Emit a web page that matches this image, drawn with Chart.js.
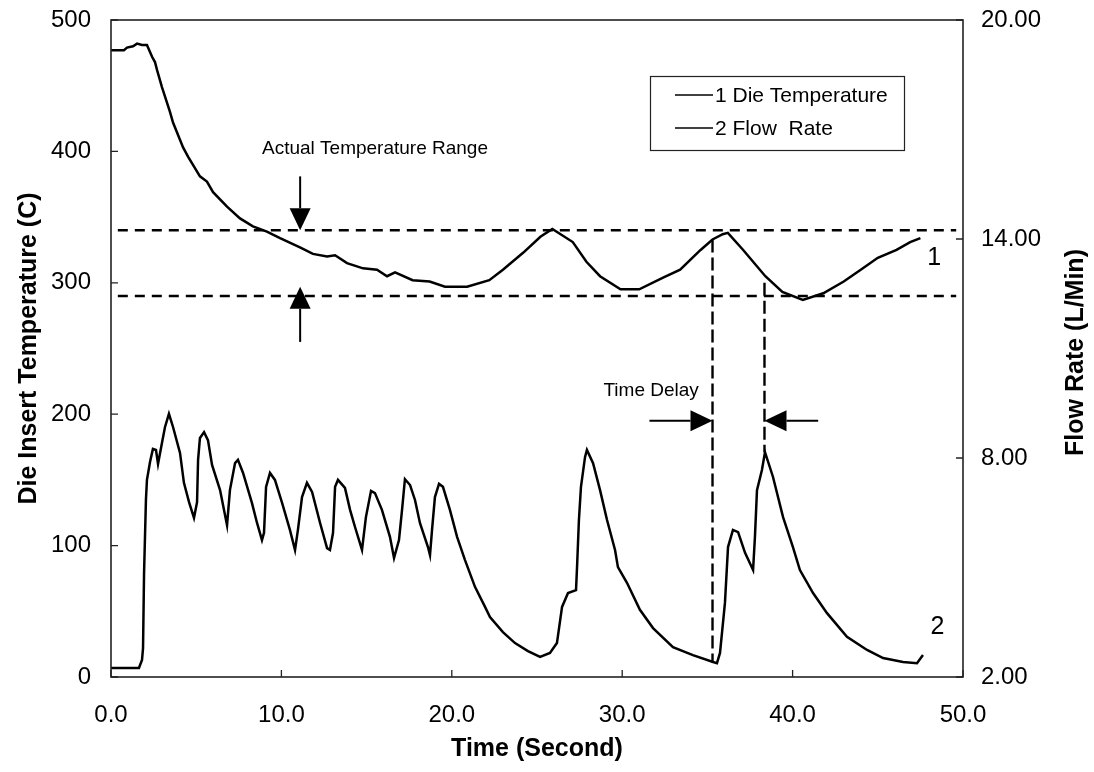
<!DOCTYPE html>
<html>
<head>
<meta charset="utf-8">
<script src="https://cdn.jsdelivr.net/npm/chart.js@4/dist/chart.umd.min.js"></script>
<style>
  html, body { margin: 0; padding: 0; background: #fff; }
  #wrap { width: 1094px; height: 772px; }
</style>
</head>
<body>
<div id="wrap"><canvas id="chart" width="1094" height="772"></canvas></div>
<script>
// Axis ticks
const timeTicks = [0, 10, 20, 30, 40, 50];
const tempTicks = [0, 100, 200, 300, 400, 500];
const flowTicks = [2, 8, 14, 20];

// Curve 1: die insert temperature (C) versus time (s)
const tempTime = [0, 0.76, 0.94, 1.29, 1.53, 1.82, 2.11, 2.41, 2.58, 2.70, 2.99, 3.46, 3.64, 4.23, 4.52,
  5.22, 5.63, 5.99, 6.81, 7.57, 8.33, 9.15, 9.92, 11.09, 11.85, 12.68, 13.15, 13.85, 14.79, 15.61, 16.20,
  16.67, 17.7, 18.7, 19.6, 20.9, 22.2, 23.0, 24.2, 25.2, 25.9, 27.1, 27.9, 28.7, 29.9, 31.0, 32.4, 33.4,
  34.6, 35.3, 35.9, 36.2, 37.1, 38.4, 39.4, 40.6, 41.8, 43.0, 44.0, 45.0, 46.1, 46.9, 47.5];
const tempValues = [477, 477, 479, 480, 482, 481, 481, 472, 468, 462, 449, 430, 422, 403, 396,
  381, 377, 369, 358, 349, 343, 339, 334, 327, 322, 320, 321, 315, 311, 310, 305,
  308, 302, 301, 297, 297, 302, 310, 323, 335, 341, 331, 316, 305, 295, 295, 304, 310,
  325, 333, 337, 338, 325, 305, 293, 287, 292, 301, 310, 319, 325, 331, 334];

// Curve 2: coolant flow rate (L/Min) versus time (s)
const flowTime = [0, 1.64, 1.82, 1.88, 1.94, 2.05, 2.11, 2.29, 2.46, 2.64, 2.76, 2.99, 3.17, 3.40, 3.64,
  4.05, 4.28, 4.58, 4.87, 5.05, 5.11, 5.22, 5.46, 5.69, 5.93, 6.40, 6.81, 6.98, 7.28, 7.45, 7.75, 8.27,
  8.57, 8.86, 8.98, 9.10, 9.33, 9.62, 10.04, 10.50, 10.80, 10.97, 11.21, 11.50, 11.80, 12.27, 12.68, 12.85,
  13.03, 13.15, 13.32, 13.73, 14.03, 14.32, 14.73, 14.96, 15.26, 15.49, 15.90, 16.37, 16.61, 16.90, 17.08,
  17.25, 17.55, 17.84, 18.13, 18.60, 18.72, 18.84, 19.01, 19.25, 19.48, 19.89, 20.31, 20.77, 21.36, 21.95,
  22.24, 23.00, 23.71, 24.47, 25.18, 25.76, 26.17, 26.47, 26.82, 27.29, 27.35, 27.46, 27.58, 27.82, 27.93,
  28.29, 28.70, 29.11, 29.58, 29.75, 30.28, 31.04, 31.81, 32.98, 34.15, 35.33, 35.56, 35.74, 36.03, 36.21,
  36.50, 36.80, 37.21, 37.68, 37.79, 37.91, 38.20, 38.38, 38.85, 39.44, 40.02, 40.43, 41.20, 42.02, 43.19,
  44.37, 45.31, 46.48, 47.30, 47.65];
const flowValues = [2.25, 2.25, 2.47, 2.79, 4.85, 6.85, 7.40, 7.89, 8.25, 8.22, 7.84, 8.41, 8.85, 9.21, 8.85,
  8.14, 7.32, 6.79, 6.36, 6.79, 7.95, 8.55, 8.71, 8.49, 7.81, 7.12, 6.16, 7.12, 7.86, 7.95, 7.59, 6.77,
  6.22, 5.75, 5.95, 7.21, 7.59, 7.40, 6.77, 6.03, 5.48, 6.03, 6.93, 7.32, 7.07, 6.22, 5.53, 5.48,
  5.95, 7.21, 7.40, 7.18, 6.58, 6.11, 5.48, 6.38, 7.10, 7.04, 6.58, 5.84, 5.26, 5.75, 6.58,
  7.42, 7.26, 6.85, 6.22, 5.56, 5.34, 6.03, 6.93, 7.29, 7.21, 6.58, 5.84, 5.21, 4.47, 3.92,
  3.64, 3.23, 2.93, 2.71, 2.55, 2.66, 2.93, 3.92, 4.30, 4.38, 5.01, 6.30, 7.21, 8.03, 8.22,
  7.86, 7.12, 6.30, 5.48, 5.01, 4.58, 3.84, 3.34, 2.82, 2.60, 2.41, 2.38, 2.66, 4.03, 5.56,
  6.03, 5.97, 5.40, 4.93, 5.84, 7.12, 7.67, 8.16, 7.48, 6.38, 5.56, 4.93, 4.30, 3.75, 3.10,
  2.74, 2.52, 2.41, 2.38, 2.60];

// Target temperature band (C) and its time span (s)
const rangeLimits = [340, 290];
const rangeSpan = [0.4, 49.6];

// Time-delay markers: times (s) and their top / bottom ends (C)
const delayTimes = [35.3, 38.35];
const delayTops = [333, 300];
const delayBottoms = [11, 171];

// Arrows: [fromTime, fromTemp, toTime, toTemp]
const rangeArrows = [[11.1, 381, 11.1, 340], [11.1, 255, 11.1, 297]];
const delayArrows = [[31.6, 195, 35.3, 195], [41.5, 195, 38.35, 195]];

// Text annotations: [time, temp, text]
const notes = [
  [8.86, 402, 'Actual Temperature Range'],
  [28.9, 218, 'Time Delay'],
  [47.9, 319, '1'],
  [48.1, 38, '2']
];

const FONT = '"Liberation Sans", Arial, Helvetica, sans-serif';
Chart.defaults.font.family = FONT;
Chart.defaults.color = '#000';

const pts = (xs, ys) => xs.map((x, i) => ({ x: x, y: ys[i] }));

const guide = (data, dash) => ({
  data: data, yAxisID: 'y', borderColor: '#000', borderWidth: 2.4,
  borderDash: dash, pointRadius: 0, fill: false, tension: 0, isGuide: true
});

const datasets = [
  { label: '1 Die Temperature', data: pts(tempTime, tempValues), yAxisID: 'y',
    borderColor: '#000', borderWidth: 2.5, pointRadius: 0, tension: 0, fill: false },
  { label: '2 Flow  Rate', data: pts(flowTime, flowValues), yAxisID: 'y2',
    borderColor: '#000', borderWidth: 2.5, pointRadius: 0, tension: 0, fill: false }
];
rangeLimits.forEach(v => datasets.push(guide([{ x: rangeSpan[0], y: v }, { x: rangeSpan[1], y: v }], [10, 7])));
delayTimes.forEach((t, i) => datasets.push(guide([{ x: t, y: delayTops[i] }, { x: t, y: delayBottoms[i] }], [13, 5])));

// Plot frame and inward tick marks
const frameTicks = {
  id: 'frameTicks',
  afterDatasetsDraw(chart) {
    const { ctx, chartArea: a, scales } = chart;
    ctx.save();
    ctx.strokeStyle = '#222';
    ctx.lineWidth = 1.6;
    ctx.strokeRect(a.left, a.top, a.right - a.left, a.bottom - a.top);
    ctx.lineWidth = 1.3;
    ctx.beginPath();
    timeTicks.forEach(v => { const x = scales.x.getPixelForValue(v); ctx.moveTo(x, a.bottom); ctx.lineTo(x, a.bottom - 7); });
    tempTicks.forEach(v => { const y = scales.y.getPixelForValue(v); ctx.moveTo(a.left, y); ctx.lineTo(a.left + 7, y); });
    flowTicks.forEach(v => { const y = scales.y2.getPixelForValue(v); ctx.moveTo(a.right, y); ctx.lineTo(a.right - 7, y); });
    ctx.stroke();
    ctx.restore();
  }
};

function drawArrow(ctx, x1, y1, x2, y2) {
  const ang = Math.atan2(y2 - y1, x2 - x1);
  const hl = 22, hw = 10.5;
  const bx = x2 - hl * Math.cos(ang), by = y2 - hl * Math.sin(ang);
  ctx.beginPath();
  ctx.moveTo(x1, y1);
  ctx.lineTo(bx, by);
  ctx.lineWidth = 2;
  ctx.stroke();
  ctx.beginPath();
  ctx.moveTo(x2, y2);
  ctx.lineTo(bx + hw * Math.sin(ang), by - hw * Math.cos(ang));
  ctx.lineTo(bx - hw * Math.sin(ang), by + hw * Math.cos(ang));
  ctx.closePath();
  ctx.fill();
}

// Arrows, notes, legend box and right axis title
const extras = {
  id: 'extras',
  afterDraw(chart) {
    const { ctx, chartArea: a, scales } = chart;
    const X = v => scales.x.getPixelForValue(v);
    const Y = v => scales.y.getPixelForValue(v);
    ctx.save();
    ctx.fillStyle = '#000';
    ctx.strokeStyle = '#000';
    rangeArrows.concat(delayArrows).forEach(r => drawArrow(ctx, X(r[0]), Y(r[1]), X(r[2]), Y(r[3])));

    ctx.textBaseline = 'middle';
    ctx.textAlign = 'left';
    notes.forEach(n => {
      ctx.font = (n[2].length < 3 ? '25px ' : '19px ') + FONT;
      ctx.fillText(n[2], X(n[0]), Y(n[1]));
    });

    // legend box
    const bx = 650, by = 76, bw = 254, bh = 74;
    ctx.lineWidth = 1.2;
    ctx.strokeStyle = '#222';
    ctx.strokeRect(bx + 0.5, by + 0.5, bw, bh);
    const series = chart.data.datasets.filter(d => !d.isGuide);
    ctx.font = '21px ' + FONT;
    series.forEach((d, i) => {
      const y = by + 19 + i * 33;
      ctx.beginPath();
      ctx.moveTo(bx + 25, y);
      ctx.lineTo(bx + 63, y);
      ctx.lineWidth = 1.6;
      ctx.strokeStyle = '#000';
      ctx.stroke();
      ctx.fillText(d.label, bx + 65, y + 1);
    });

    // right axis title, reading bottom to top
    ctx.translate(1076, (a.top + a.bottom) / 2 + 4);
    ctx.rotate(-Math.PI / 2);
    ctx.textAlign = 'center';
    ctx.font = 'bold 25px ' + FONT;
    ctx.fillText('Flow Rate (L/Min)', 0, 0);
    ctx.restore();
  }
};

new Chart(document.getElementById('chart'), {
  type: 'line',
  data: { datasets: datasets },
  options: {
    responsive: false,
    devicePixelRatio: 1,
    animation: false,
    layout: { padding: { top: 20, left: 0, right: 0, bottom: 0 } },
    plugins: { legend: { display: false }, tooltip: { enabled: false } },
    scales: {
      x: {
        type: 'linear', min: 0, max: 50,
        afterFit: s => { s.height = 95; s.paddingLeft = 0; s.paddingRight = 0; },
        afterBuildTicks: s => { s.ticks = timeTicks.map(v => ({ value: v })); },
        grid: { display: false, drawTicks: false },
        border: { display: false },
        ticks: { padding: 24, font: { size: 24 }, callback: v => Number(v).toFixed(1) },
        title: { display: true, text: 'Time (Second)', font: { size: 25, weight: 'bold' }, padding: { top: 0, bottom: 8 } }
      },
      y: {
        position: 'left', min: 0, max: 500,
        afterFit: s => { s.width = 111; s.paddingTop = 0; s.paddingBottom = 0; },
        afterBuildTicks: s => { s.ticks = tempTicks.map(v => ({ value: v })); },
        grid: { display: false, drawTicks: false },
        border: { display: false },
        ticks: { padding: 20, font: { size: 24 }, callback: v => String(v) },
        title: { display: true, text: 'Die Insert Temperature (C)', font: { size: 25, weight: 'bold' }, padding: { top: 14, bottom: 0 } }
      },
      y2: {
        position: 'right', min: 2, max: 20,
        afterFit: s => { s.width = 131; s.paddingTop = 0; s.paddingBottom = 0; },
        afterBuildTicks: s => { s.ticks = flowTicks.map(v => ({ value: v })); },
        grid: { display: false, drawTicks: false },
        border: { display: false },
        ticks: { padding: 18, font: { size: 24 }, callback: v => Number(v).toFixed(2) }
      }
    }
  },
  plugins: [frameTicks, extras]
});
</script>
</body>
</html>
